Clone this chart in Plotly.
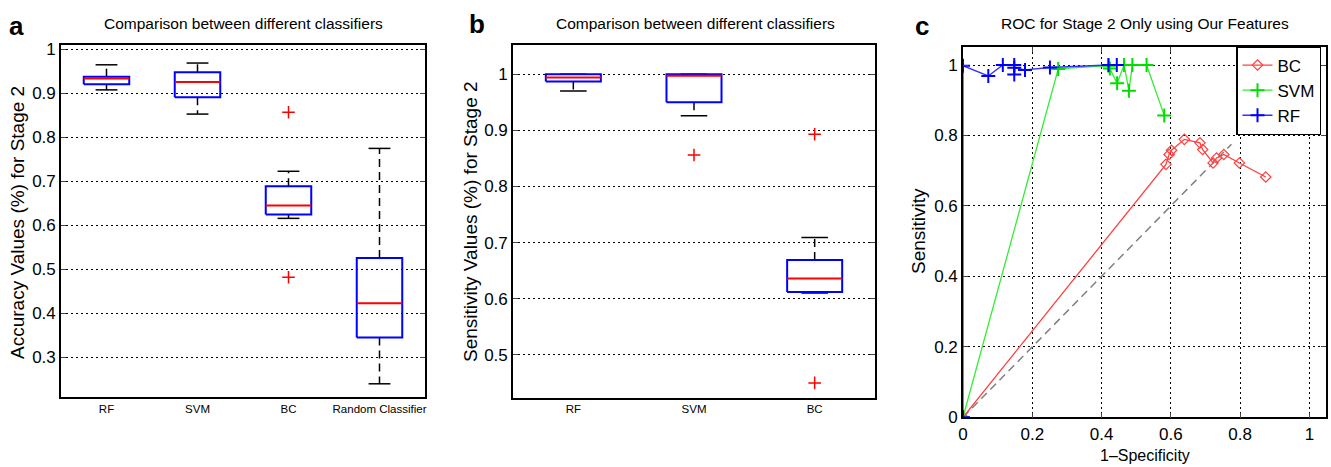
import plotly.graph_objects as go

# ---------------- data ----------------
# Panel a: accuracy box plots
a_categories = ["RF", "SVM", "BC", "Random Classifier"]
a_lower = [0.908, 0.853, 0.616, 0.240]
a_q1 = [0.921, 0.891, 0.625, 0.345]
a_median = [0.934, 0.926, 0.645, 0.423]
a_q3 = [0.938, 0.948, 0.689, 0.526]
a_upper = [0.965, 0.969, 0.723, 0.775]
a_outliers = [[], [], [0.857, 0.482], []]
a_yticks = [0.3, 0.4, 0.5, 0.6, 0.7, 0.8, 0.9, 1.0]
a_yticktext = ["0.3", "0.4", "0.5", "0.6", "0.7", "0.8", "0.9", "1"]

# Panel b: sensitivity box plots
b_categories = ["RF", "SVM", "BC"]
b_lower = [0.970, 0.926, 0.610]
b_q1 = [0.987, 0.950, 0.612]
b_median = [0.994, 0.997, 0.636]
b_q3 = [1.000, 1.000, 0.669]
b_upper = [1.000, 1.000, 0.709]
b_outliers = [[], [0.856], [0.893, 0.450]]
b_yticks = [0.5, 0.6, 0.7, 0.8, 0.9, 1.0]
b_yticktext = ["0.5", "0.6", "0.7", "0.8", "0.9", "1"]

# Panel c: ROC curves
bc_fpr = [0.0, 0.586, 0.595, 0.602, 0.639, 0.684, 0.692, 0.722, 0.732, 0.753, 0.798, 0.874]
bc_tpr = [0.0, 0.718, 0.746, 0.758, 0.789, 0.779, 0.760, 0.722, 0.736, 0.746, 0.722, 0.682]
svm_fpr = [0.0, 0.275, 0.420, 0.424, 0.445, 0.465, 0.479, 0.489, 0.530, 0.581]
svm_tpr = [0.0, 0.989, 0.998, 0.990, 0.948, 1.000, 0.927, 1.000, 1.000, 0.857]
rf_fpr = [0.0, 0.0, 0.073, 0.115, 0.148, 0.148, 0.148, 0.179, 0.251, 0.420, 0.444]
rf_tpr = [0.0, 0.998, 0.969, 1.000, 1.000, 0.973, 0.992, 0.986, 0.993, 1.000, 1.000]
chance = [0.0, 0.775]
c_ticks = [0, 0.2, 0.4, 0.6, 0.8, 1.0]
c_ticktext = ["0", "0.2", "0.4", "0.6", "0.8", "1"]

# ---------------- layout helpers ----------------
W, H = 1331, 467
def px(x):
    return x / W
def py(y):
    return 1 - y / H

FONT = "Liberation Sans, Arial, sans-serif"
BLUE = "#0000ff"
RED = "#ff0000"

fig = go.Figure()


def add_boxes(xa, ya, lower, q1, med, q3, upper, outliers, half, cap, dash):
    n = len(q1)
    pos = list(range(1, n + 1))
    wx, wy = [], []
    for i in range(n):
        wx += [pos[i], pos[i], None, pos[i], pos[i], None]
        wy += [q3[i], upper[i], None, q1[i], lower[i], None]
    fig.add_trace(go.Scatter(x=wx, y=wy, mode="lines", xaxis=xa, yaxis=ya,
                             line=dict(color="black", width=1.5, dash=dash),
                             showlegend=False, hoverinfo="skip"))
    cx, cy = [], []
    for i in range(n):
        cx += [pos[i] - cap, pos[i] + cap, None, pos[i] - cap, pos[i] + cap, None]
        cy += [upper[i], upper[i], None, lower[i], lower[i], None]
    fig.add_trace(go.Scatter(x=cx, y=cy, mode="lines", xaxis=xa, yaxis=ya,
                             line=dict(color="black", width=1.5),
                             showlegend=False, hoverinfo="skip"))
    bx, by = [], []
    for i in range(n):
        bx += [pos[i] - half, pos[i] + half, pos[i] + half, pos[i] - half, pos[i] - half, None]
        by += [q1[i], q1[i], q3[i], q3[i], q1[i], None]
    fig.add_trace(go.Scatter(x=bx, y=by, mode="lines", xaxis=xa, yaxis=ya,
                             line=dict(color=BLUE, width=2),
                             showlegend=False, hoverinfo="skip"))
    mx, my = [], []
    for i in range(n):
        mx += [pos[i] - half, pos[i] + half, None]
        my += [med[i], med[i], None]
    fig.add_trace(go.Scatter(x=mx, y=my, mode="lines", xaxis=xa, yaxis=ya,
                             line=dict(color=RED, width=2),
                             showlegend=False, hoverinfo="skip"))
    ox, oy = [], []
    for i in range(n):
        for v in outliers[i]:
            ox.append(pos[i])
            oy.append(v)
    fig.add_trace(go.Scatter(x=ox, y=oy, mode="markers", xaxis=xa, yaxis=ya,
                             marker=dict(symbol="cross-thin", size=9,
                                         line=dict(color=RED, width=1.5)),
                             showlegend=False, hoverinfo="skip"))


add_boxes("x", "y", a_lower, a_q1, a_median, a_q3, a_upper, a_outliers, 0.25, 0.12, "8px,5px")
add_boxes("x2", "y2", b_lower, b_q1, b_median, b_q3, b_upper, b_outliers, 0.228, 0.11, "8px,5px")

# ROC panel
fig.add_trace(go.Scatter(x=chance, y=chance, mode="lines", xaxis="x3", yaxis="y3",
                         line=dict(color="#808080", width=1.5, dash="8px,5px"),
                         showlegend=False, hoverinfo="skip"))
fig.add_trace(go.Scatter(x=bc_fpr, y=bc_tpr, mode="lines+markers", name="BC",
                         xaxis="x3", yaxis="y3",
                         line=dict(color="#ff4040", width=1.3),
                         marker=dict(symbol="diamond-open", size=8, color="#ff4040",
                                     line=dict(width=1.2))))
fig.add_trace(go.Scatter(x=svm_fpr, y=svm_tpr, mode="lines+markers", name="SVM",
                         xaxis="x3", yaxis="y3",
                         line=dict(color="#33ee33", width=1.3),
                         marker=dict(symbol="cross-thin", size=10,
                                     line=dict(color="#00dd00", width=2))))
fig.add_trace(go.Scatter(x=rf_fpr, y=rf_tpr, mode="lines+markers", name="RF",
                         xaxis="x3", yaxis="y3",
                         line=dict(color="#3030ff", width=1.3),
                         marker=dict(symbol="cross-thin", size=10,
                                     line=dict(color=BLUE, width=2))))

grid = dict(showgrid=True, gridcolor="black", gridwidth=1.2, griddash="2px,3px")
frame = dict(showline=True, linecolor="black", linewidth=1.6, mirror="ticks",
             zeroline=False, automargin=False)

fig.update_layout(
    width=W, height=H, margin=dict(l=0, r=0, t=0, b=0, pad=0, autoexpand=False),
    paper_bgcolor="white", plot_bgcolor="white",
    font=dict(family=FONT, color="black"),
    xaxis=dict(domain=[px(61), px(425)], range=[0.5, len(a_categories) + 0.5],
               tickvals=list(range(1, len(a_categories) + 1)), ticktext=a_categories,
               ticks="", showgrid=False, tickfont=dict(size=11.5),
               anchor="y", **frame),
    yaxis=dict(domain=[py(397), py(45)], range=[0.21, 1.01],
               tickvals=a_yticks, ticktext=a_yticktext, ticks="inside", ticklen=5,
               tickfont=dict(size=17), anchor="x", **grid, **frame),
    xaxis2=dict(domain=[px(513), px(875)], range=[0.5, len(b_categories) + 0.5],
                tickvals=list(range(1, len(b_categories) + 1)), ticktext=b_categories,
                ticks="", showgrid=False, tickfont=dict(size=11.5),
                anchor="y2", **frame),
    yaxis2=dict(domain=[py(397.5), py(45)], range=[0.424, 1.052],
                tickvals=b_yticks, ticktext=b_yticktext, ticks="inside", ticklen=5,
                tickfont=dict(size=17), anchor="x2", **grid, **frame),
    xaxis3=dict(domain=[px(963), px(1326)], range=[0, 1.048],
                tickvals=c_ticks, ticktext=c_ticktext, ticks="inside", ticklen=5,
                tickfont=dict(size=17), anchor="y3", **grid, **frame),
    yaxis3=dict(domain=[py(417.3), py(46.7)], range=[0, 1.052],
                tickvals=c_ticks, ticktext=c_ticktext, ticks="inside", ticklen=5,
                tickfont=dict(size=17), anchor="x3", **grid, **frame),
    legend=dict(x=px(1321), y=py(46), xanchor="right", yanchor="top",
                bgcolor="white", bordercolor="black", borderwidth=1.5,
                font=dict(size=17), tracegroupgap=0, itemwidth=30),
    showlegend=True,
)

ann = []
for txt, x, y in [("a", 16, 26), ("b", 477, 24), ("c", 922, 26)]:
    ann.append(dict(text="<b>" + txt + "</b>", x=px(x), y=py(y), xref="paper", yref="paper",
                    showarrow=False, xanchor="center", yanchor="middle",
                    font=dict(size=26)))
for txt, x, y in [("Comparison between different classifiers", 243, 24),
                  ("Comparison between different classifiers", 695, 24),
                  ("ROC for Stage 2 Only using Our Features", 1145, 24)]:
    ann.append(dict(text=txt, x=px(x), y=py(y), xref="paper", yref="paper",
                    showarrow=False, xanchor="center", yanchor="middle",
                    font=dict(size=15.5)))
for txt, x, y in [("Accuracy Values (%) for Stage 2", 17, 223),
                  ("Sensitivity Values (%) for Stage 2", 470, 222),
                  ("Sensitivity", 919, 231)]:
    ann.append(dict(text=txt, x=px(x), y=py(y), xref="paper", yref="paper",
                    showarrow=False, xanchor="center", yanchor="middle", textangle=-90,
                    font=dict(size=19)))
ann.append(dict(text="1\u2013Specificity", x=px(1145), y=py(455), xref="paper", yref="paper",
                showarrow=False, xanchor="center", yanchor="middle",
                font=dict(size=16)))
fig.update_layout(annotations=ann)

post = ("var d=document.getElementById('{plot_id}');"
        "d.style.position='absolute';d.style.left='0px';d.style.top='0px';"
        "document.body.style.margin='0';document.body.style.padding='0';"
        "document.documentElement.style.overflow='hidden';document.body.style.overflow='hidden';")
fig.write_html("out.html", config={"displayModeBar": False}, post_script=post)
